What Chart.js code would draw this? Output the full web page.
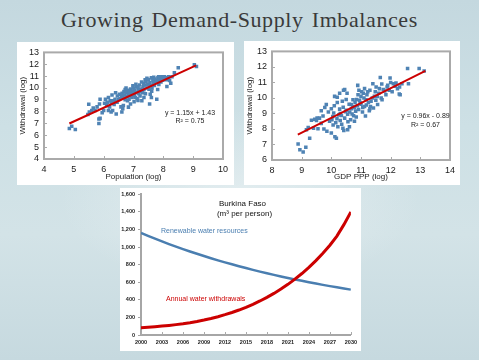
<!DOCTYPE html>
<html><head><meta charset="utf-8">
<script src="https://cdn.jsdelivr.net/npm/chart.js@4.4.1/dist/chart.umd.min.js"></script>
<style>
html,body{margin:0;padding:0;width:479px;height:360px;overflow:hidden;}
body{position:relative;font-family:'Liberation Sans',Arial,sans-serif;
background:
 radial-gradient(ellipse 180px 90px at 240px 200px, rgba(235,242,244,0.7), rgba(235,242,244,0) 100%),
 linear-gradient(180deg,#c4d8df 0%,#cde0e5 35%,#d3e3e7 65%,#c6d9df 100%);}
.panel{position:absolute;background:#fff;}
.panel canvas{display:block;}
.t{position:absolute;white-space:nowrap;}
</style></head><body>
<div class="t" style="left:0;width:479px;top:7px;text-align:center;font-family:'Liberation Serif','DejaVu Serif',serif;font-size:22px;letter-spacing:0.6px;word-spacing:2px;color:#3a3a3a">Growing Demand-Supply Imbalances</div>

<div class="panel" style="left:17px;top:42px;width:217px;height:143px"><canvas id="c1" width="217" height="143"></canvas></div>
<div class="panel" style="left:244px;top:41px;width:216px;height:144px"><canvas id="c2" width="216" height="144"></canvas></div>
<div class="panel" style="left:120px;top:188px;width:241px;height:163px"><canvas id="c3" width="241" height="163"></canvas></div>

<div class="t" style="left:160px;width:60px;top:108.5px;text-align:center;font-size:7px;line-height:8px;color:#222">y = 1.15x + 1.43<br>R² = 0.75</div>
<div class="t" style="left:395.5px;width:60px;top:111px;text-align:center;font-size:7px;line-height:9px;color:#222">y = 0.96x - 0.89<br>R² = 0.67</div>

<div class="t" style="left:212.5px;width:60px;top:198.5px;text-align:center;font-size:8px;line-height:10px;color:#111">Burkina Faso</div>
<div class="t" style="left:214.5px;width:60px;top:208.5px;text-align:center;font-size:8px;line-height:10px;color:#111">(m³ per person)</div>
<div class="t" style="left:161px;top:227px;font-size:7px;line-height:8px;color:#4a7eb0">Renewable water resources</div>
<div class="t" style="left:166px;top:295px;font-size:7px;line-height:8px;color:#cc0000">Annual water withdrawals</div>

<script>
// ---------- DATA ----------
const popX = [4.85,4.93,5.05,5.47,5.52,5.6,5.71,5.5,5.86,5.84,5.88,5.84,5.88,6.03,6.1,6.06,6.16,6.22,6.16,6.25,6.3,6.25,6.33,6.38,6.46,6.53,6.61,6.64,6.66,6.72,6.75,6.8,6.83,6.88,6.94,6.98,7.02,7.06,7.11,7.17,7.22,7.28,7.22,7.34,7.39,7.45,7.54,7.56,7.61,7.67,7.73,7.78,7.81,7.84,7.9,7.95,8.01,8.06,8.12,8.21,8.29,8.37,8.5,9.11,9.04,
 6.55,6.6,6.62,6.65,6.68,6.7,6.72,6.75,6.78,6.8,6.82,6.85,6.86,6.9,6.92,6.95,6.97,7.0,7.0,7.03,7.05,7.08,7.1,7.12,7.15,7.18,7.2,7.25,7.27,7.3,7.32,7.35,7.38,7.4,7.42,7.45,7.48,7.5,7.52,7.55,7.58,7.6,7.62,7.65,7.68,7.7,7.72,7.75,7.8,7.82,7.85,7.88,7.92,7.98,8.04,8.1,8.15,8.18,8.25,6.4,6.45,6.5,6.35,6.42,6.58,6.9,7.15,7.35,6.2,6.12,6.28,6.0,5.95,5.65,5.78,7.6];
const popY = [6.57,6.76,6.49,7.76,7.97,8.1,8.1,8.62,8.65,7.38,7.43,7.0,9.05,8.7,8.5,9.05,9.19,8.92,8.1,7.97,8.1,8.7,8.92,9.05,9.32,9.46,7.97,8.24,8.51,9.86,10.0,8.92,8.38,9.32,9.6,10.19,8.84,9.19,10.08,9.86,9.73,8.92,9.32,10.4,10.68,10.81,8.65,9.46,9.73,10.4,10.54,9.05,9.86,10.95,10.73,10.95,10.81,10.86,10.13,10.62,10.95,11.27,11.7,11.81,11.95,
 9.1,9.3,9.55,9.2,9.7,9.4,9.0,9.6,9.25,9.8,9.5,9.05,9.7,9.9,9.45,9.2,9.75,9.55,10.0,9.35,9.8,10.3,9.6,9.1,10.1,9.5,10.25,9.9,10.5,9.6,10.1,9.85,10.25,9.5,10.55,10.0,10.3,10.7,9.9,10.45,10.2,10.85,10.0,10.6,10.9,10.2,10.75,10.45,10.6,10.85,10.3,10.9,10.5,10.65,10.95,10.7,10.85,10.95,10.4,9.6,8.8,9.0,8.6,7.8,8.4,8.65,8.95,9.2,8.4,8.8,9.4,8.1,7.9,8.3,8.4,9.2];
const popTrendX = [4.85, 9.1];
const popTrendY = [7.0, 11.9];

const gdpX = [8.88,8.94,9.05,9.14,9.27,9.16,9.22,9.33,9.44,9.52,9.55,9.66,9.66,9.72,9.78,9.83,9.85,9.94,10.0,10.06,10.08,10.11,10.17,10.19,10.22,10.28,10.28,10.34,10.37,10.39,10.41,10.48,10.53,10.56,10.61,10.67,10.7,10.73,10.78,10.84,10.89,10.93,10.97,11.0,11.06,11.08,11.15,11.17,11.23,11.28,11.34,11.4,11.45,11.51,11.56,11.6,11.65,11.71,11.75,11.84,11.9,11.98,12.05,12.09,12.18,12.23,12.29,12.38,12.57,12.6,12.96,13.13,
 9.9,10.0,10.05,10.1,10.15,10.2,10.25,10.3,10.35,10.4,10.45,10.5,10.5,10.55,10.6,10.62,10.65,10.68,10.72,10.75,10.8,10.82,10.85,10.88,10.9,10.92,10.95,11.0,11.02,11.05,11.1,11.12,11.18,11.2,11.25,11.3,11.32,11.38,11.42,11.48,11.5,11.55,11.62,11.68,11.7,11.8,11.88,11.95,12.0,12.15,12.3,12.32,10.3,10.45,10.2,10.02,9.75,9.6,9.5,9.4,10.12,10.42,10.55,10.78,11.12,11.3];
const gdpY = [7.03,6.66,6.52,6.82,7.4,7.95,8.09,8.56,8.62,8.7,8.01,8.36,9.18,8.83,9.38,9.58,7.85,8.5,7.74,8.26,9.03,10.1,7.4,8.66,8.15,10.3,9.28,8.87,9.79,8.05,10.5,9.11,10.3,8.46,8.15,9.58,8.97,9.89,9.38,8.77,10.81,10.5,9.69,10.1,9.38,10.3,8.83,9.89,10.4,9.18,9.79,10.91,10.1,10.71,9.58,10.3,11.32,9.89,10.55,10.2,10.81,11.28,10.4,10.91,10.96,10.6,10.26,10.91,11.9,10.91,11.9,11.73,
 9.1,9.3,8.8,9.5,8.4,9.7,8.9,9.0,8.3,9.4,8.7,9.2,9.9,8.95,9.6,9.1,8.6,9.3,9.45,8.85,9.7,9.15,9.9,9.5,10.2,9.25,9.85,9.6,10.4,9.1,10.0,10.6,9.55,10.2,9.7,10.5,9.45,10.0,9.35,10.4,9.85,10.1,10.6,10.0,10.9,10.45,10.7,10.5,11.0,10.75,10.7,10.2,8.55,10.55,10.05,8.6,8.0,8.7,8.55,8.05,7.5,7.9,7.95,8.5,9.45,9.3];
const gdpTrendX = [8.87, 13.17];
const gdpTrendY = [7.63, 11.75];

const years = [2000,2001,2002,2003,2004,2005,2006,2007,2008,2009,2010,2011,2012,2013,2014,2015,2016,2017,2018,2019,2020,2021,2022,2023,2024,2025,2026,2027,2028,2029,2030];
const renewable = [1160,1127,1095,1064,1034,1005,977,950,924,898,873,849,826,804,782,761,741,721,702,684,666,649,632,616,600,585,570,556,542,529,516];
const withdrawals = [83,88,94,101,109,118,128,140,154,170,188,208,231,256,284,315,349,387,428,473,522,576,635,699,769,846,930,1021,1125,1255,1400];
const yearTicks = [2000,2003,2006,2009,2012,2015,2018,2021,2024,2027,2030];

// ---------- SETUP ----------
Chart.defaults.font.family = "'Liberation Sans', Arial, sans-serif";
Chart.defaults.color = '#1a1a1a';
Chart.defaults.animation = false;

const framePlugin = {
  id: 'frame',
  beforeDatasetsDraw(chart, args, opts) {
    if (!opts || !opts.on) return;
    const ctx = chart.ctx, a = chart.chartArea;
    ctx.save();
    ctx.strokeStyle = opts.color || '#a9a9a9';
    ctx.lineWidth = opts.width || 2;
    if (opts.box) ctx.strokeRect(a.left, a.top, a.right - a.left, a.bottom - a.top);
    ctx.lineWidth = 1;
    const len = 3;
    if (opts.xTicks) {
      chart.scales.x.ticks.forEach(t => {
        const px = Math.round(chart.scales.x.getPixelForValue(t.value)) + 0.5;
        ctx.beginPath(); ctx.moveTo(px, a.bottom); ctx.lineTo(px, a.bottom - len); ctx.stroke();
      });
    }
    if (opts.yTicks) {
      chart.scales.y.ticks.forEach(t => {
        const py = Math.round(chart.scales.y.getPixelForValue(t.value)) + 0.5;
        ctx.beginPath(); ctx.moveTo(a.left, py); ctx.lineTo(a.left + len, py); ctx.stroke();
      });
    }
    ctx.restore();
  }
};
Chart.register(framePlugin);

function toPts(xs, ys) { return xs.map((x, i) => ({x: x, y: ys[i]})); }

function scatterChart(id, xs, ys, tx, ty, xr, yr, xTitle, yTitle, dims) {
  return new Chart(document.getElementById(id), {
    type: 'scatter',
    data: {
      datasets: [
        { type: 'line', data: toPts(tx, ty), borderColor: '#cc0000', borderWidth: 2, pointRadius: 0, fill: false },
        { data: toPts(xs, ys), backgroundColor: '#4f83b4', borderWidth: 0, pointStyle: 'rect', pointRadius: 2.5 }
      ]
    },
    options: {
      responsive: false,
      layout: { padding: { left: 0, top: dims.top, right: dims.right, bottom: 0 } },
      plugins: { legend: { display: false }, tooltip: { enabled: false },
        frame: { on: true, box: true, xTicks: true, yTicks: true, color: '#aaaaaa', width: 2 } },
      scales: {
        x: { type: 'linear', min: xr[0], max: xr[1],
             afterFit: s => { s.height = dims.xh; },
             ticks: { stepSize: 1, autoSkip: false, font: { size: 9 }, padding: 5, color: '#1a1a1a' },
             grid: { display: false, drawTicks: false }, border: { display: false },
             title: { display: true, text: xTitle, font: { size: 8 }, padding: { top: 0, bottom: 3 }, color: '#1a1a1a' } },
        y: { type: 'linear', min: yr[0], max: yr[1],
             afterFit: s => { s.width = dims.yw; },
             ticks: { stepSize: 1, autoSkip: false, font: { size: 9 }, padding: 5, color: '#1a1a1a' },
             grid: { display: false, drawTicks: false }, border: { display: false },
             title: { display: true, text: yTitle, font: { size: 8 }, padding: { top: 1, bottom: 0 }, color: '#1a1a1a' } }
      }
    }
  });
}

scatterChart('c1', popX, popY, popTrendX, popTrendY, [4, 10], [4, 13], 'Population (log)', 'Withdrawal (log)', { top: 6, right: 11, xh: 26, yw: 27 });
scatterChart('c2', gdpX, gdpY, gdpTrendX, gdpTrendY, [8, 14], [6, 13], 'GDP PPP (log)', 'Withdrawal (log)', { top: 5, right: 9, xh: 25, yw: 28 });

new Chart(document.getElementById('c3'), {
  type: 'line',
  data: {
    datasets: [
      { data: toPts(years, withdrawals), borderColor: '#cc0000', borderWidth: 3, pointRadius: 0, fill: false },
      { data: toPts(years, renewable), borderColor: '#4a7eb0', borderWidth: 2.5, pointRadius: 0, fill: false }
    ]
  },
  options: {
    responsive: false,
    layout: { padding: { left: 0, top: 6, right: 10, bottom: 0 } },
    plugins: { legend: { display: false }, tooltip: { enabled: false },
      frame: { on: true, box: false, xTicks: true, yTicks: false, color: '#aaaaaa' } },
    scales: {
      x: { type: 'linear', min: 2000, max: 2030,
           afterFit: s => { s.height = 16; },
           afterBuildTicks: s => { s.ticks = yearTicks.map(v => ({ value: v })); },
           ticks: { autoSkip: false, font: { size: 5.5, weight: 'bold' }, padding: 4, color: '#222', callback: v => String(v) },
           grid: { display: false, drawTicks: false },
           border: { display: true, color: '#a6a6a6', width: 2 } },
      y: { type: 'linear', min: 0, max: 1600,
           afterFit: s => { s.width = 21; },
           ticks: { stepSize: 200, autoSkip: false, font: { size: 5.5, weight: 'bold' }, padding: 3, color: '#222',
                    callback: v => v.toLocaleString('en-US') },
           grid: { display: true, drawOnChartArea: false, drawTicks: true, tickLength: 3, color: '#a6a6a6' },
           border: { display: true, color: '#a6a6a6', width: 2 } }
    }
  }
});
</script>
</body></html>
